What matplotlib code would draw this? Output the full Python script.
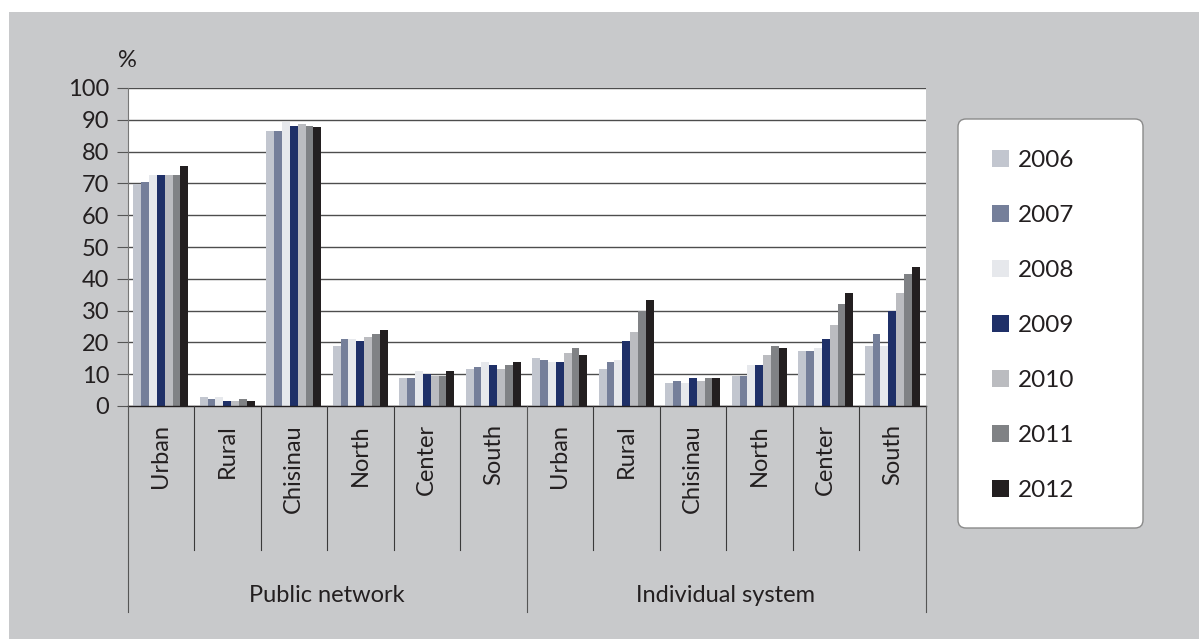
import matplotlib
matplotlib.use("Agg")
import matplotlib.pyplot as plt
import matplotlib.transforms as mtransforms
from matplotlib.patches import Rectangle, FancyBboxPatch
from matplotlib.lines import Line2D
import numpy as np

plt.rcParams['font.family'] = ['Lato', 'DejaVu Sans']

# ---------------- data ----------------
categories = ["Urban", "Rural", "Chisinau", "North", "Center", "South",
              "Urban", "Rural", "Chisinau", "North", "Center", "South"]
groups = ["Public network", "Individual system"]
years = ["2006", "2007", "2008", "2009", "2010", "2011", "2012"]

v2006 = [69.8, 2.8, 86.5, 19.0, 8.9, 11.7, 15.2, 11.7, 7.3, 9.5, 17.4, 19.0]
v2007 = [70.5, 2.2, 86.5, 21.2, 8.9, 12.4, 14.6, 13.9, 8.0, 9.5, 17.4, 22.7]
v2008 = [72.6, 2.8, 89.3, 21.2, 11.1, 13.9, 13.9, 14.6, 7.3, 13.0, 18.3, 19.0]
v2009 = [72.6, 1.6, 88.1, 20.4, 10.2, 13.0, 13.9, 20.5, 8.9, 13.0, 21.2, 29.9]
v2010 = [72.6, 1.6, 88.7, 21.8, 9.5, 11.7, 16.8, 23.4, 8.0, 16.1, 25.6, 35.6]
v2011 = [72.6, 2.2, 88.1, 22.7, 9.5, 13.0, 18.3, 29.9, 8.9, 19.0, 32.2, 41.6]
v2012 = [75.5, 1.6, 87.8, 24.0, 11.0, 13.8, 15.9, 33.3, 8.9, 18.1, 35.6, 43.6]
series = [v2006, v2007, v2008, v2009, v2010, v2011, v2012]

yticks = [0, 10, 20, 30, 40, 50, 60, 70, 80, 90, 100]

colors = ["#c2c6cf", "#757f9a", "#e6e8ec", "#1f3068", "#bbbcc0", "#808285", "#231f20"]

# ---------------- figure ----------------
W, H = 1199, 639
fig = plt.figure(figsize=(W / 100, H / 100), dpi=100, facecolor="white")
px = mtransforms.Affine2D().scale(1.0 / W, 1.0 / H) + fig.transFigure

def P(y):  # top-based pixel y -> bottom-based
    return H - y

bg = Rectangle((9, 0), W - 9, P(12), transform=px, facecolor="#c8c9cb",
               edgecolor="none", zorder=-10)
fig.patches.append(bg)

ax_l, ax_r, ax_t, ax_b = 127.5, 925.5, 88, 406
ax = fig.add_axes([ax_l / W, P(ax_b) / H, (ax_r - ax_l) / W, (ax_b - ax_t) / H])
ax.set_facecolor("white")
ax.set_zorder(1)

n = len(years)
x = np.arange(len(categories))
group_w = 0.83
bw = group_w / n
for i, (vals, c) in enumerate(zip(series, colors)):
    ax.bar(x - group_w / 2 + bw * (i + 0.5), vals, width=bw, color=c,
           edgecolor="none", zorder=2, label=years[i])

ax.set_xlim(-0.5, len(categories) - 0.5)
ax.set_ylim(0, 100)
ax.set_yticks(yticks)
ax.set_yticklabels([str(t) for t in yticks])
ax.yaxis.grid(True, color="#4d4d4d", linewidth=1.0, zorder=0)
ax.set_axisbelow(True)
ax.tick_params(axis="y", length=8, width=0.8, color="#555555", pad=5,
               labelsize=17, labelcolor="#231f20")
ax.tick_params(axis="x", length=0, labelbottom=False)
for s in ["top", "right"]:
    ax.spines[s].set_visible(False)
ax.spines["left"].set_color("#777777")
ax.spines["left"].set_linewidth(0.8)
ax.spines["bottom"].set_color("#231f20")
ax.spines["bottom"].set_linewidth(1.0)

# category separators and labels below axis
trans = ax.get_xaxis_transform()
short_y = (ax_b - 549.7) / (ax_b - ax_t)
long_y = (ax_b - 612) / (ax_b - ax_t)
for k in range(len(categories) + 1):
    xb = k - 0.5
    is_group = (k % 6 == 0)
    ax.add_line(Line2D([xb, xb], [0, long_y if is_group else short_y],
                       transform=trans, color="#555555" if is_group else "#3a3a3a",
                       linewidth=0.8, clip_on=False, zorder=3))

lab_y = (ax_b - 424) / (ax_b - ax_t)
for xi, lab in zip(x, categories):
    ax.text(xi, lab_y, lab, transform=trans, rotation=90, ha="center", va="top",
            fontsize=17, color="#231f20")

grp_y = (ax_b - 595) / (ax_b - ax_t)
for gi, g in enumerate(groups):
    ax.text(gi * 6 + 2.5, grp_y, g, transform=trans, ha="center", va="center",
            fontsize=17, color="#231f20")

# % label
fig.text(127.5, P(67), "%", transform=px, ha="center", va="baseline",
         fontsize=17, color="#231f20")

# legend box
box = FancyBboxPatch((958, P(528)), 1143 - 958, 528 - 119, transform=px,
                     boxstyle="round,pad=0,rounding_size=8",
                     facecolor="white", edgecolor="#8a8a8a", linewidth=1.0, zorder=1)
fig.patches.append(box)
for i, (yr, c) in enumerate(zip(years, colors)):
    cy = 158.3 + 55 * i
    fig.patches.append(Rectangle((992, P(cy + 8.5)), 17, 17, transform=px,
                                 facecolor=c, edgecolor="none", zorder=2))
    fig.text(1018, P(cy + 8.5), yr, transform=px, ha="left", va="baseline",
             fontsize=17.5, color="#231f20", zorder=3)

fig.savefig("out.png", dpi=100, facecolor=fig.get_facecolor())
